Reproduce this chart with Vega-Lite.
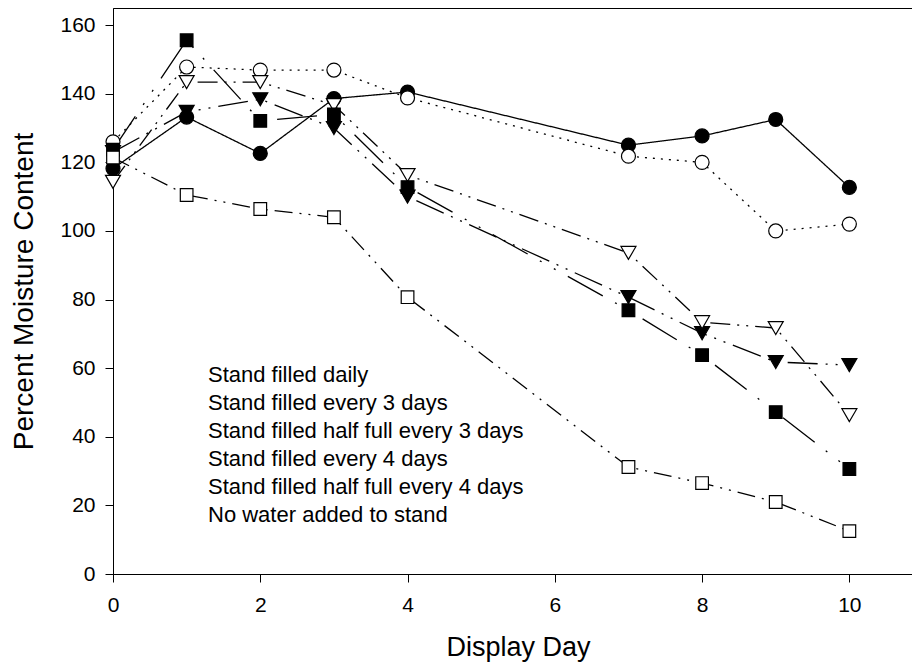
{
  "$schema": "https://vega.github.io/schema/vega-lite/v6.json",
  "width": 810,
  "height": 566,
  "autosize": {"type": "none"},
  "padding": {"left": 113, "top": 8, "right": 0, "bottom": 95},
  "background": "white",
  "config": {
    "font": "Liberation Sans",
    "view": {"stroke": "black", "strokeWidth": 1},
    "axis": {
      "domainColor": "black",
      "tickColor": "black",
      "labelColor": "black",
      "titleColor": "black",
      "labelFontSize": 21,
      "titleFontSize": 27,
      "titleFontWeight": "normal",
      "grid": false,
      "tickSize": 8,
      "domainWidth": 1,
      "tickWidth": 1
    }
  },
  "data": {
    "values": [
      {"series": "Stand filled daily", "day": 0, "pct": 118.2},
      {"series": "Stand filled daily", "day": 1, "pct": 133.2},
      {"series": "Stand filled daily", "day": 2, "pct": 122.6},
      {"series": "Stand filled daily", "day": 3, "pct": 138.6},
      {"series": "Stand filled daily", "day": 4, "pct": 140.5},
      {"series": "Stand filled daily", "day": 7, "pct": 125},
      {"series": "Stand filled daily", "day": 8, "pct": 127.7},
      {"series": "Stand filled daily", "day": 9, "pct": 132.5},
      {"series": "Stand filled daily", "day": 10, "pct": 112.7},
      {"series": "Stand filled every 3 days", "day": 0, "pct": 126},
      {"series": "Stand filled every 3 days", "day": 1, "pct": 147.8},
      {"series": "Stand filled every 3 days", "day": 2, "pct": 146.9},
      {"series": "Stand filled every 3 days", "day": 3, "pct": 146.9},
      {"series": "Stand filled every 3 days", "day": 4, "pct": 138.8},
      {"series": "Stand filled every 3 days", "day": 7, "pct": 121.8},
      {"series": "Stand filled every 3 days", "day": 8, "pct": 120},
      {"series": "Stand filled every 3 days", "day": 9, "pct": 100},
      {"series": "Stand filled every 3 days", "day": 10, "pct": 102},
      {"series": "Stand filled half full every 3 days", "day": 0, "pct": 123},
      {"series": "Stand filled half full every 3 days", "day": 1, "pct": 134.7},
      {"series": "Stand filled half full every 3 days", "day": 2, "pct": 138.4},
      {"series": "Stand filled half full every 3 days", "day": 3, "pct": 130},
      {"series": "Stand filled half full every 3 days", "day": 4, "pct": 110},
      {"series": "Stand filled half full every 3 days", "day": 7, "pct": 80.7},
      {"series": "Stand filled half full every 3 days", "day": 8, "pct": 70.2},
      {"series": "Stand filled half full every 3 days", "day": 9, "pct": 61.8},
      {"series": "Stand filled half full every 3 days", "day": 10, "pct": 60.9},
      {"series": "Stand filled every 4 days", "day": 0, "pct": 114.3},
      {"series": "Stand filled every 4 days", "day": 1, "pct": 143.4},
      {"series": "Stand filled every 4 days", "day": 2, "pct": 143.4},
      {"series": "Stand filled every 4 days", "day": 3, "pct": 136.7},
      {"series": "Stand filled every 4 days", "day": 4, "pct": 116.3},
      {"series": "Stand filled every 4 days", "day": 7, "pct": 93.6},
      {"series": "Stand filled every 4 days", "day": 8, "pct": 73.4},
      {"series": "Stand filled every 4 days", "day": 9, "pct": 71.7},
      {"series": "Stand filled every 4 days", "day": 10, "pct": 46.3},
      {"series": "Stand filled half full every 4 days", "day": 0, "pct": 123.7},
      {"series": "Stand filled half full every 4 days", "day": 1, "pct": 155.6},
      {"series": "Stand filled half full every 4 days", "day": 2, "pct": 132.1},
      {"series": "Stand filled half full every 4 days", "day": 3, "pct": 134},
      {"series": "Stand filled half full every 4 days", "day": 4, "pct": 112.8},
      {"series": "Stand filled half full every 4 days", "day": 7, "pct": 76.9},
      {"series": "Stand filled half full every 4 days", "day": 8, "pct": 63.8},
      {"series": "Stand filled half full every 4 days", "day": 9, "pct": 47.2},
      {"series": "Stand filled half full every 4 days", "day": 10, "pct": 30.6},
      {"series": "No water added to stand", "day": 0, "pct": 121.4},
      {"series": "No water added to stand", "day": 1, "pct": 110.5},
      {"series": "No water added to stand", "day": 2, "pct": 106.4},
      {"series": "No water added to stand", "day": 3, "pct": 104},
      {"series": "No water added to stand", "day": 4, "pct": 80.7},
      {"series": "No water added to stand", "day": 7, "pct": 31.2},
      {"series": "No water added to stand", "day": 8, "pct": 26.5},
      {"series": "No water added to stand", "day": 9, "pct": 21},
      {"series": "No water added to stand", "day": 10, "pct": 12.5}
    ]
  },
  "encoding": {
    "x": {
      "field": "day",
      "type": "quantitative",
      "title": "Display Day",
      "scale": {"domain": [0, 11], "nice": false},
      "axis": {"values": [0, 2, 4, 6, 8, 10], "labelPadding": 12, "titlePadding": 19, "labelFlush": false}
    },
    "y": {
      "field": "pct",
      "type": "quantitative",
      "title": "Percent Moisture Content",
      "scale": {"domain": [0, 165], "nice": false},
      "axis": {"values": [0, 20, 40, 60, 80, 100, 120, 140, 160], "labelPadding": 10, "titlePadding": 21, "titleFontSize": 28}
    }
  },
  "layer": [
    {
      "mark": {"type": "point", "filled": true, "fill": "white", "stroke": "black", "strokeWidth": 1.4, "opacity": 1, "size": 0},
      "encoding": {
        "shape": {
          "field": "series",
          "type": "nominal",
          "scale": {
            "domain": ["Stand filled daily", "Stand filled every 3 days", "Stand filled half full every 3 days", "Stand filled every 4 days", "Stand filled half full every 4 days", "No water added to stand"],
            "range": [
              "M-3.7,0H-1M1,0H3.7M-1,0A1,1,0,1,0,1,0A1,1,0,1,0,-1,0M-0.82,0A0.82,0.82,0,1,0,0.82,0A0.82,0.82,0,1,0,-0.82,0M-0.64,0A0.64,0.64,0,1,0,0.64,0A0.64,0.64,0,1,0,-0.64,0M-0.46,0A0.46,0.46,0,1,0,0.46,0A0.46,0.46,0,1,0,-0.46,0M-0.28,0A0.28,0.28,0,1,0,0.28,0A0.28,0.28,0,1,0,-0.28,0M-0.12,0H0.12",
              "M-3.4,0H-3.15M-2.25,0H-2M1.8,0H2.05M2.8,0H3.05M3.6,0H3.85M-1.05,0A1.05,1.05,0,1,0,1.05,0A1.05,1.05,0,1,0,-1.05,0",
              "M0.8,0H3.85M0,0.75L-0.85,-0.75L0.85,-0.75ZM0,0.5L-0.6375,-0.625L0.6375,-0.625ZM0,0.25L-0.425,-0.5L0.425,-0.5ZM0,0L-0.2125,-0.375L0.2125,-0.375ZM-0.05,-0.25H0.05",
              "M1.2,0H1.45M2.5,0H2.75M3.6,0H3.85M0,0.75L-0.85,-0.75L0.85,-0.75Z",
              "M3.3,0H3.55M-0.72,-0.72H0.72V0.72H-0.72ZM-0.52,-0.52H0.52V0.52H-0.52ZM-0.32,-0.32H0.32V0.32H-0.32ZM-0.12,-0.12H0.12V0.12H-0.12Z",
              "M0.72,0H1.2M2.35,0H2.6M3.5,0H3.75M-0.72,-0.72H0.72V0.72H-0.72Z"
            ]
          },
          "legend": {
            "title": null,
            "orient": "none",
            "legendX": 47,
            "legendY": 356,
            "padding": 0,
            "symbolSize": 196,
            "symbolStrokeWidth": 1.4,
            "symbolStrokeColor": "black",
            "symbolFillColor": "white",
            "symbolOpacity": 1,
            "labelFontSize": 22,
            "labelColor": "black",
            "labelOffset": 26,
            "labelLimit": 600,
            "rowPadding": 6
          }
        }
      }
    },
    {
      "mark": {"type": "line", "stroke": "black", "strokeWidth": 1.3},
      "encoding": {
        "strokeDash": {
          "field": "series",
          "type": "nominal",
          "scale": {
            "domain": ["Stand filled daily", "Stand filled every 3 days", "Stand filled half full every 3 days", "Stand filled every 4 days", "Stand filled half full every 4 days", "No water added to stand"],
            "range": [[1, 0], [2, 6], [30, 8, 2, 8, 2, 8], [20, 7, 2, 7, 2, 7], [40, 14, 2, 14, 2, 14], [18, 7, 2, 7, 2, 7]]
          },
          "legend": null
        }
      }
    },
    {
      "transform": [{"filter": {"field": "series", "equal": "Stand filled daily"}}],
      "mark": {"type": "point", "shape": "circle", "size": 196, "filled": true, "fill": "black", "stroke": "black", "strokeWidth": 1.2, "opacity": 1}
    },
    {
      "transform": [{"filter": {"field": "series", "equal": "Stand filled every 3 days"}}],
      "mark": {"type": "point", "shape": "circle", "size": 196, "filled": true, "fill": "white", "stroke": "black", "strokeWidth": 1.2, "opacity": 1}
    },
    {
      "transform": [{"filter": {"field": "series", "equal": "Stand filled half full every 3 days"}}],
      "mark": {"type": "point", "shape": "triangle-down", "size": 225, "filled": true, "fill": "black", "stroke": "black", "strokeWidth": 1.2, "opacity": 1}
    },
    {
      "transform": [{"filter": {"field": "series", "equal": "Stand filled every 4 days"}}],
      "mark": {"type": "point", "shape": "triangle-down", "size": 225, "filled": true, "fill": "white", "stroke": "black", "strokeWidth": 1.2, "opacity": 1}
    },
    {
      "transform": [{"filter": {"field": "series", "equal": "Stand filled half full every 4 days"}}],
      "mark": {"type": "point", "shape": "square", "size": 160, "filled": true, "fill": "black", "stroke": "black", "strokeWidth": 1.2, "opacity": 1}
    },
    {
      "transform": [{"filter": {"field": "series", "equal": "No water added to stand"}}],
      "mark": {"type": "point", "shape": "square", "size": 160, "filled": true, "fill": "white", "stroke": "black", "strokeWidth": 1.2, "opacity": 1}
    }
  ]
}
